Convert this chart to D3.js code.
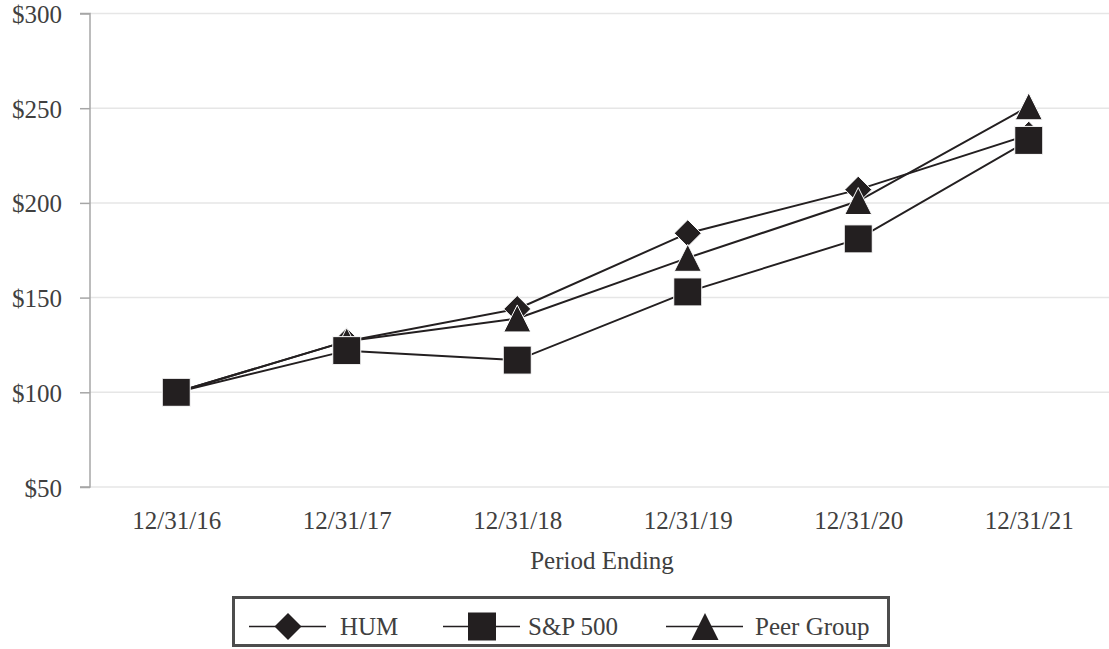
<!DOCTYPE html>
<html>
<head>
<meta charset="utf-8">
<script src="https://cdn.jsdelivr.net/npm/d3@7"></script>
<style>
  html, body { margin: 0; padding: 0; background: #fff; }
  svg { display: block; }
  text { font-family: "Liberation Serif", "Times New Roman", serif; fill: #404040; }
</style>
</head>
<body>
<svg id="chart" width="1109" height="649"></svg>
<script>
// ---- data ----
const categories = ["12/31/16", "12/31/17", "12/31/18", "12/31/19", "12/31/20", "12/31/21"];
const humValues = [100, 127, 144, 184, 207, 236];
const spValues = [100, 122, 117, 153, 181, 233];
const peerValues = [100, 127, 139, 171, 201, 251];
const yTicks = [50, 100, 150, 200, 250, 300];
const seriesNames = ["HUM", "S&P 500", "Peer Group"];

// ---- layout ----
const W = 1109, H = 649;
const plotLeft = 90, plotRight = 1114, plotTop = 13.5, plotBottom = 487;
const ink = "#231f20";

const svg = d3.select("#chart");

const x = d3.scalePoint().domain(categories).range([plotLeft + 1, plotRight]).padding(0.5);
const y = d3.scaleLinear().domain([50, 300]).range([plotBottom, plotTop]);

// gridlines
svg.append("g").selectAll("line").data(yTicks).join("line")
  .attr("x1", plotLeft).attr("x2", W)
  .attr("y1", d => y(d)).attr("y2", d => y(d))
  .attr("stroke", "#e6e6e6").attr("stroke-width", 1.5);

// y axis
const yAxis = d3.axisLeft(y).tickValues(yTicks).tickSize(10).tickPadding(18)
  .tickFormat(d => "$" + d);
const gy = svg.append("g").attr("transform", `translate(${plotLeft},0)`).call(yAxis);
gy.select(".domain").attr("stroke", "#a6a6a6").attr("stroke-width", 1.5)
  .attr("d", `M-10,${y(300)}H0V${y(50)}H-10`);
gy.selectAll(".tick line").attr("stroke", "#a6a6a6").attr("stroke-width", 1.5);
gy.selectAll(".tick text").attr("font-size", 25).attr("fill", "#404040")
  .attr("font-family", "Liberation Serif, Times New Roman, serif").attr("dy", "0.36em");

// x axis labels
const xAxis = d3.axisBottom(x).tickSize(0).tickPadding(0);
const gx = svg.append("g").attr("transform", `translate(0,${plotBottom})`).call(xAxis);
gx.select(".domain").remove();
gx.selectAll(".tick text").attr("font-size", 25).attr("fill", "#404040")
  .attr("font-family", "Liberation Serif, Times New Roman, serif")
  .attr("dy", null).attr("y", 42);

svg.append("text").attr("x", (plotLeft + plotRight) / 2).attr("y", 569)
  .attr("text-anchor", "middle").attr("font-size", 25).text("Period Ending");

// marker shapes
const half = 13.5;
function markerPath(type, cx, cy) {
  if (type === "diamond") return `M${cx},${cy - half}L${cx + half},${cy}L${cx},${cy + half}L${cx - half},${cy}Z`;
  if (type === "square") return `M${cx - 14},${cy - 14}h28v28h-28Z`;
  return `M${cx},${cy - half}L${cx + half},${cy + half}L${cx - half},${cy + half}Z`;
}

const series = [
  { name: seriesNames[0], values: humValues, shape: "diamond" },
  { name: seriesNames[2], values: peerValues, shape: "triangle" },
  { name: seriesNames[1], values: spValues, shape: "square" }
];

const line = d3.line().x((d, i) => x(categories[i])).y(d => y(d));

// lines
svg.append("g").selectAll("path").data(series).join("path")
  .attr("d", s => line(s.values))
  .attr("fill", "none").attr("stroke", ink).attr("stroke-width", 2);

// markers
series.forEach(s => {
  svg.append("g").selectAll("path").data(s.values).join("path")
    .attr("d", (d, i) => markerPath(s.shape, x(categories[i]), y(d)))
    .attr("fill", ink).attr("stroke", "#fff").attr("stroke-width", 1);
});

// legend
const legend = svg.append("g");
legend.append("rect").attr("x", 233.5).attr("y", 597.5).attr("width", 655).attr("height", 48)
  .attr("fill", "#fff").attr("stroke", "#4d4d4d").attr("stroke-width", 3);

const legendItems = [
  { name: seriesNames[0], shape: "diamond", lx: 249, tx: 340 },
  { name: seriesNames[1], shape: "square", lx: 443, tx: 528 },
  { name: seriesNames[2], shape: "triangle", lx: 666, tx: 755 }
];
const ly = 626.5;
legendItems.forEach(it => {
  legend.append("line").attr("x1", it.lx).attr("x2", it.lx + 77).attr("y1", ly).attr("y2", ly)
    .attr("stroke", ink).attr("stroke-width", 1.5);
  legend.append("path").attr("d", markerPath(it.shape, it.lx + 39, ly)).attr("fill", ink);
  legend.append("text").attr("x", it.tx).attr("y", 635).attr("font-size", 25).text(it.name);
});
</script>
</body>
</html>
